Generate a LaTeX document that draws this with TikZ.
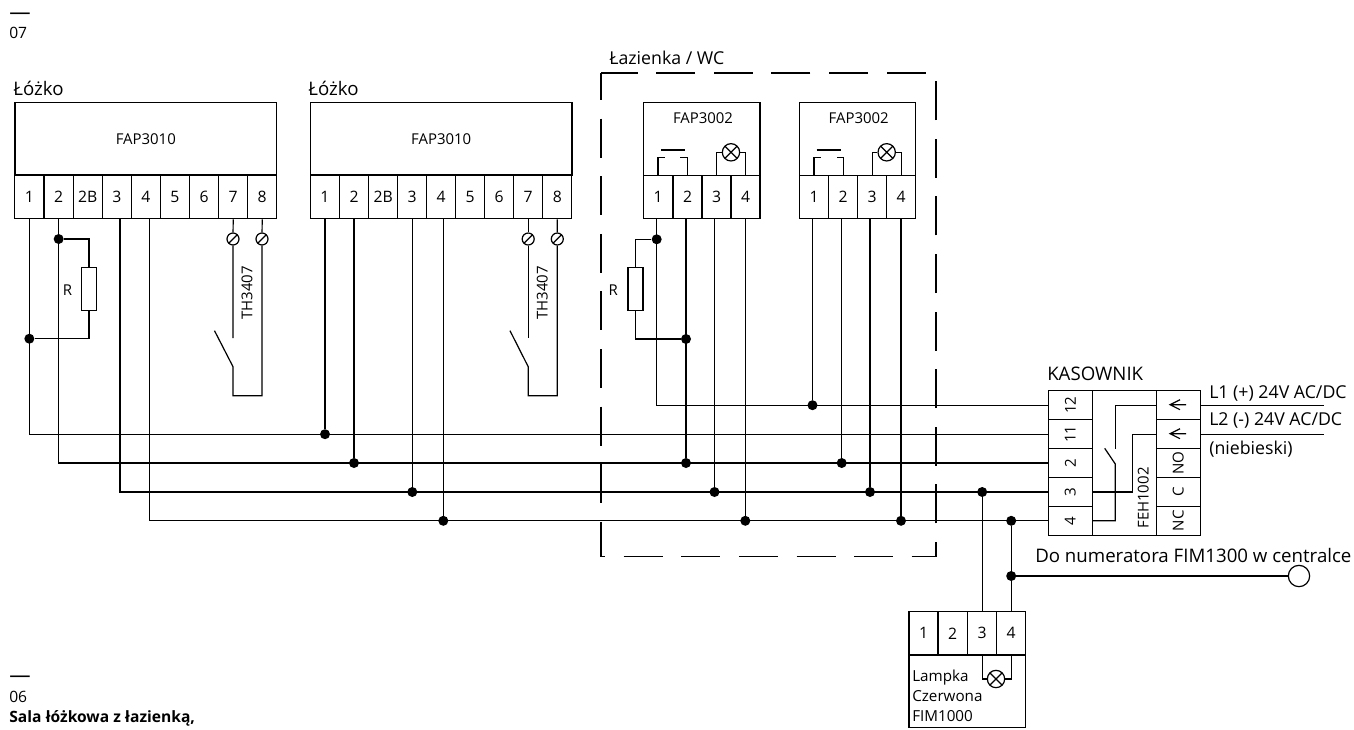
\documentclass[tikz,border=0pt]{standalone}
\usepackage{fontspec}
\setmainfont{Open Sans}
\usepackage{tikz}
\usetikzlibrary{calc}

\tikzset{
	wire/.style={line width=0.9pt, line join=miter},
	cell/.style={draw, line width=0.9pt, rectangle, minimum width=21.75pt, minimum height=32.8pt, inner sep=0pt, font=\fontsize{11.8}{13}\selectfont},
	rowcell/.style={cell, rotate=90, minimum height=32.9pt, font=\fontsize{11.3}{13}\selectfont},
	head/.style={draw, line width=0.9pt, rectangle, minimum height=54.4pt, inner sep=0pt, font=\fontsize{11.2}{13}\selectfont},
	resistor/.style={draw, line width=0.9pt, fill=white, rectangle, minimum width=11.25pt, minimum height=32.5pt, inner sep=0pt},
	junction/.style={circle, fill=black, minimum size=7.5pt, inner sep=0pt},
	terminal/.style={circle, draw, fill=white, line width=0.9pt, minimum size=9pt, inner sep=0pt,
		path picture={\draw[line width=0.9pt] (path picture bounding box.south west) -- (path picture bounding box.north east);}},
	lamp/.style={circle, draw, fill=white, line width=0.9pt, minimum size=13pt, inner sep=0pt,
		path picture={\draw[line width=0.9pt] (path picture bounding box.south west) -- (path picture bounding box.north east)
			(path picture bounding box.north west) -- (path picture bounding box.south east);}},
	small/.style={inner sep=0pt, font=\fontsize{11.2}{13}\selectfont},
	big/.style={inner sep=0pt, anchor=west, font=\fontsize{13.3}{16}\selectfont},
	bigger/.style={big, font=\fontsize{14}{16}\selectfont},
	caption/.style={inner sep=0pt, anchor=west, font=\fontsize{11.7}{13}\selectfont},
	rulemark/.style={inner sep=0pt, anchor=west, font=\fontsize{16}{16}\selectfont},
}

\begin{document}
\begin{tikzpicture}[x=0.75pt,y=-0.75pt]
	\useasboundingbox (0,0) rectangle (1354,729);

	\node[rulemark] (dasha) at (9,16) {—}; \node[caption] (numa) at (9,33) {07};
	\node[rulemark] (dashb) at (9,679) {—}; \node[caption] (numb) at (9,697) {06};
	\node[caption, font=\fontsize{11.7}{13}\selectfont\bfseries] (capb) at (9,718) {Sala łóżkowa z łazienką,};

	\node[bigger] (beda) at (13,88) {Łóżko}; \node[bigger] (bedb) at (308,88) {Łóżko};
	\node[big] (bath) at (609,58) {Łazienka / WC};
	\draw[wire, dash pattern=on 29.25pt off 13.95pt, dash phase=9pt] (601,73) -- (601,556.7) -- (936,556.7) -- (936,73) -- cycle;

	\node[head, minimum width=196.3pt] (atop) at (145.8,138.8) {FAP3010};
	\node[cell] (a1) at (29.35,196.9) {1}; \node[cell] (a2) at (58.65,196.9) {2}; \node[cell] (a2b) at (87.8,196.9) {2B};
	\node[cell] (a3) at (116.8,196.9) {3}; \node[cell] (a4) at (145.8,196.9) {4}; \node[cell] (a5) at (174.8,196.9) {5};
	\node[cell] (a6) at (204,196.9) {6}; \node[cell] (a7) at (233.2,196.9) {7}; \node[cell] (a8) at (262.2,196.9) {8};

	\node[head, minimum width=196.3pt] (btop) at (441.2,138.8) {FAP3010};
	\node[cell] (b1) at (324.8,196.9) {1}; \node[cell] (b2) at (354,196.9) {2}; \node[cell] (b2b) at (383.2,196.9) {2B};
	\node[cell] (b3) at (412.2,196.9) {3}; \node[cell] (b4) at (441.2,196.9) {4}; \node[cell] (b5) at (470.2,196.9) {5};
	\node[cell] (b6) at (499.2,196.9) {6}; \node[cell] (b7) at (528.2,196.9) {7}; \node[cell] (b8) at (557.3,196.9) {8};

	\node[head, minimum width=87.5pt] (ptop) at (701.7,139) {}; \node[small] (pname) at (703,118.3) {FAP3002};
	\node[cell] (p1) at (658,197) {1}; \node[cell] (p2) at (687.5,197) {2}; \node[cell] (p3) at (716.5,197) {3}; \node[cell] (p4) at (745.5,197) {4};

	\node[head, minimum width=87.5pt] (qtop) at (857.5,139) {}; \node[small] (qname) at (858.7,118.3) {FAP3002};
	\node[cell] (q1) at (814,197) {1}; \node[cell] (q2) at (843.2,197) {2}; \node[cell] (q3) at (872.2,197) {3}; \node[cell] (q4) at (901.2,197) {4};

	\node[lamp] (plamp) at (731,152.3) {}; \draw[wire] (p3.north) |- (plamp.west); \draw[wire] (p4.north) |- (plamp.east);
	\node[lamp] (qlamp) at (886.7,152.3) {}; \draw[wire] (q3.north) |- (qlamp.west); \draw[wire] (q4.north) |- (qlamp.east);
	\coordinate (pbl) at (665,157.3); \coordinate (pbr) at (680,157.3); \coordinate (qbl) at (820.7,157.3); \coordinate (qbr) at (836.7,157.3);
	\draw[wire] (p1.north) |- (pbl); \draw[wire] (p2.north) |- (pbr); \draw[wire] (661,150) -- (685,150);
	\draw[wire] (q1.north) |- (qbl); \draw[wire] (q2.north) |- (qbr); \draw[wire] (816.7,150) -- (840.7,150);

	\node[rowcell] (k12) at (1070.3,405.2) {12}; \node[rowcell] (k11) at (1070.3,434.2) {11}; \node[rowcell] (k2) at (1070.3,463) {2};
	\node[rowcell] (k3) at (1070.3,492) {3}; \node[rowcell] (k4) at (1070.3,520.8) {4};
	\node[draw, line width=0.9pt, minimum width=48pt, minimum height=108.5pt, inner sep=0pt] (kbody) at (1124.3,463) {};
	\node[rowcell] (kl1) at (1178.2,405.2) {}; \node[rowcell] (kl2) at (1178.2,434.2) {}; \node[rowcell] (kno) at (1178.2,463) {NO};
	\node[rowcell] (kc) at (1178.2,492) {C}; \node[rowcell] (knc) at (1178.2,520.8) {NC};
	\node[small, rotate=90] (feh) at (1143.3,498) {FEH1002};
	\node[bigger] (kname) at (1047,374) {KASOWNIK};
	\draw[wire] (1180,399.7) -- (1170,404.7) -- (1180,409.7) (1170,404.7) -- (1186,404.7);
	\draw[wire] (1180,428.7) -- (1170,433.7) -- (1180,438.7) (1170,433.7) -- (1186,433.7);
	\coordinate (kup) at (1115.3,449); \coordinate (kpiv) at (1115.3,464); \coordinate (karm) at (1104.7,448.3); \coordinate (kmid) at (1132.7,434.2);
	\draw[wire] (kl1.north) -| (kup); \draw[wire] (k4.south) -| (kpiv) -- (karm);
	\draw[wire] (k3.south) -| (kmid) -- (kl2.north);

	\coordinate (lone) at (1324.3,405.2); \coordinate (ltwo) at (1324.3,434.2);
	\draw[wire] (kl1.south) -- (lone); \draw[wire] (kl2.south) -- (ltwo);
	\node[big] (lonet) at (1209,393) {L1 (+) 24V AC/DC}; \node[big] (ltwot) at (1209,420) {L2 (-) 24V AC/DC}; \node[big] (blue) at (1209,449) {(niebieski)};

	\node[junction] (ja1) at (29.35,338.7) {}; \node[junction] (ja2) at (58.65,239) {};
	\node[resistor] (ra) at (89,289) {}; \node[small] (rat) at (67.5,290) {R};
	\draw[wire] (ja2) -| (ra.north); \draw[wire] (ra.south) |- (ja1);
	\draw[wire] (a1.south) -- (a1.south |- k11.north) -- (k11.north);
	\draw[wire] (a2.south) -- (a2.south |- k2.north) -- (k2.north);
	\coordinate (ca3) at (120,492); \coordinate (ca4) at (149.5,520.8);
	\draw[wire] (ca3 |- a3.south) -- (ca3) -- (k3.north); \draw[wire] (ca4 |- a4.south) -- (ca4) -- (k4.north);

	\node[junction] (jb1) at (325,434.2) {}; \node[junction] (jb2) at (354,463) {}; \node[junction] (jb3) at (412.3,492) {}; \node[junction] (jb4) at (443.3,520.8) {};
	\draw[wire] (jb1 |- b1.south) -- (jb1); \draw[wire] (jb2 |- b2.south) -- (jb2); \draw[wire] (jb3 |- b3.south) -- (jb3); \draw[wire] (jb4 |- b4.south) -- (jb4);

	\node[terminal] (ta7) at (233,239) {}; \node[terminal] (ta8) at (262,239) {}; \node[small, rotate=90] (tha) at (247,293) {TH3407};
	\coordinate (sa1) at (233,338); \coordinate (sa2) at (214.5,330.7); \coordinate (sa3) at (233,366.7); \coordinate (sa4) at (233,395.7); \coordinate (sa5) at (262,395.7);
	\draw[wire] (a7.south) -- (ta7) -- (sa1); \draw[wire] (a8.south) -- (ta8) -- (sa5) -- (sa4) -- (sa3) -- (sa2);

	\node[terminal] (tb7) at (528.2,239) {}; \node[terminal] (tb8) at (557.3,239) {}; \node[small, rotate=90] (thb) at (542.3,293) {TH3407};
	\coordinate (sb1) at (528.2,338); \coordinate (sb2) at (510,330.7); \coordinate (sb3) at (528.2,366.7); \coordinate (sb4) at (528.2,395.7); \coordinate (sb5) at (557.3,395.7);
	\draw[wire] (b7.south) -- (tb7) -- (sb1); \draw[wire] (b8.south) -- (tb8) -- (sb5) -- (sb4) -- (sb3) -- (sb2);

	\node[junction] (jp1) at (656.7,239.3) {}; \node[junction] (jp2) at (686,339) {};
	\node[resistor] (rp) at (635.5,289) {}; \node[small] (rpt) at (613.3,290) {R};
	\draw[wire] (jp1) -| (rp.north); \draw[wire] (rp.south) |- (jp2);
	\node[junction] (jpb2) at (686,463) {}; \node[junction] (jpb3) at (714.5,492) {}; \node[junction] (jpb4) at (745.3,520.8) {};
	\draw[wire] (jp1 |- p1.south) -- (jp1 |- k12.north) -- (k12.north);
	\draw[wire] (jpb2 |- p2.south) -- (jpb2); \draw[wire] (jpb3 |- p3.south) -- (jpb3); \draw[wire] (jpb4 |- p4.south) -- (jpb4);

	\node[junction] (jq1) at (812.5,405.2) {}; \node[junction] (jq2) at (841.7,463) {}; \node[junction] (jq3) at (870,492) {}; \node[junction] (jq4) at (901,520.8) {};
	\draw[wire] (jq1 |- q1.south) -- (jq1); \draw[wire] (jq2 |- q2.south) -- (jq2); \draw[wire] (jq3 |- q3.south) -- (jq3); \draw[wire] (jq4 |- q4.south) -- (jq4);

	\node[cell] (f1) at (923.5,633.3) {1}; \node[cell] (f2) at (952.7,633.3) {2}; \node[cell] (f3) at (982.2,633.3) {3}; \node[cell] (f4) at (1011.2,633.3) {4};
	\node[draw, line width=0.9pt, minimum width=87.5pt, minimum height=54.5pt, inner sep=0pt] (fbody) at (967.3,691.3) {};
	\node[inner sep=0pt, anchor=west, align=left, font=\fontsize{11.4}{15}\selectfont] (ftext) at (912,696) {Lampka\\Czerwona\\FIM1000};
	\node[lamp] (flamp) at (996,679) {}; \draw[wire] (f3.south) |- (flamp.west); \draw[wire] (f4.south) |- (flamp.east);

	\node[junction] (jf3) at (982.2,492) {}; \node[junction] (jf4) at (1011.2,520.8) {}; \node[junction] (jn) at (1011.2,576) {};
	\draw[wire] (jf3) -- (f3.north); \draw[wire] (jf4) -- (f4.north);
	\node[circle, draw, line width=0.9pt, minimum size=16pt, inner sep=0pt] (nend) at (1299,576) {};
	\draw[wire] (jn) -- (nend.west);
	\node[bigger] (ntext) at (1035,555) {Do numeratora FIM1300 w centralce};
\end{tikzpicture}
\end{document}
